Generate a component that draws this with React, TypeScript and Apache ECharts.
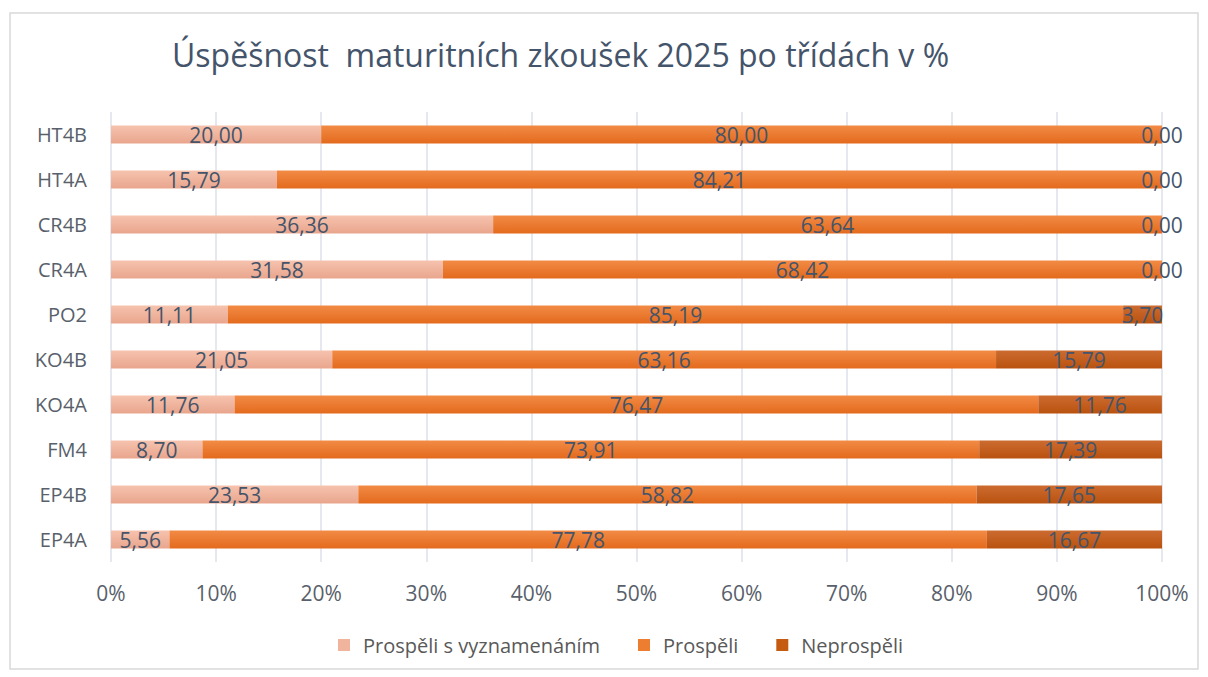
import React, { useEffect, useRef } from "react";
import * as echarts from "echarts";

const categories = ["EP4A", "EP4B", "FM4", "KO4A", "KO4B", "PO2", "CR4A", "CR4B", "HT4A", "HT4B"];
const vyznamenani = [5.56, 23.53, 8.7, 11.76, 21.05, 11.11, 31.58, 36.36, 15.79, 20.0];
const prospeli = [77.78, 58.82, 73.91, 76.47, 63.16, 85.19, 68.42, 63.64, 84.21, 80.0];
const neprospeli = [16.67, 17.65, 17.39, 11.76, 15.79, 3.7, 0, 0, 0, 0];
const seriesNames = ["Prospěli s vyznamenáním", "Prospěli", "Neprospěli"];
const xTicks = [0, 10, 20, 30, 40, 50, 60, 70, 80, 90, 100];

const FONT = "'Open Sans', 'Noto Sans', sans-serif";

function grad(top: string, bottom: string) {
  return new echarts.graphic.LinearGradient(0, 0, 0, 1, [
    { offset: 0, color: top },
    { offset: 1, color: bottom },
  ]);
}

export default function App() {
  const ref = useRef<HTMLDivElement>(null);
  useEffect(() => {
    if (!ref.current) return;
    const chart = echarts.init(ref.current, null, { renderer: "svg" });
    const label = {
      show: true,
      position: "inside",
      color: "#44546a",
      fontSize: 21,
      fontFamily: FONT,
      formatter: (p: any) => Number(p.value).toFixed(2).replace(".", ","),
    };
    const mk = (name: string, data: number[], top: string, bottom: string, legendColor: string) => ({
      name,
      type: "bar",
      stack: "total",
      data,
      barWidth: 18,
      label,
      itemStyle: { color: grad(top, bottom) },
      emphasis: { disabled: true },
      _legendColor: legendColor,
    });
    const series = [
      mk(seriesNames[0], vyznamenani, "#f6c3ae", "#e9a58d", "#f0b39c"),
      mk(seriesNames[1], prospeli, "#f28b45", "#e36a1d", "#ed7d31"),
      mk(seriesNames[2], neprospeli, "#cc6b30", "#b9520f", "#c55a11"),
    ];
    chart.setOption({
      animation: false,
      backgroundColor: "#ffffff",
      title: {
        text: "Úspěšnost  maturitních zkoušek 2025 po třídách v %",
        left: 167,
        top: 33,
        textStyle: { color: "#44546a", fontSize: 32, fontWeight: "normal", fontFamily: FONT },
      },
      legend: {
        bottom: 17,
        left: 333,
        itemWidth: 12,
        itemHeight: 12,
        itemGap: 38,
        icon: "rect",
        formatter: (n: string) => "{a|" + n + "}",
        textStyle: {
          color: "#595959",
          fontSize: 20,
          fontFamily: FONT,
          rich: { a: { color: "#595959", fontSize: 20, fontFamily: FONT, padding: [0, 0, 0, 8] } },
        },
        data: seriesNames.map((n, i) => ({ name: n, itemStyle: { color: (series[i] as any)._legendColor } })),
      },
      grid: { left: 111, right: 46, top: 112, bottom: 115, containLabel: false },
      xAxis: {
        type: "value",
        min: 0,
        max: 100,
        interval: 10,
        axisLine: { show: false },
        axisTick: { show: false },
        splitLine: { show: true, lineStyle: { color: "#dde2ea", width: 1.5 } },
        axisLabel: {
          color: "#595f6b",
          fontSize: 21,
          fontFamily: FONT,
          margin: 20,
          formatter: (v: number) => (xTicks.includes(v) ? v + "%" : ""),
        },
      },
      yAxis: {
        type: "category",
        data: categories,
        axisLine: { show: false },
        axisTick: { show: false },
        axisLabel: { color: "#595f6b", fontSize: 20, fontFamily: FONT, margin: 24 },
      },
      graphic: [
        {
          type: "rect",
          shape: { x: 10, y: 13, width: 1188, height: 656 },
          style: { fill: "none", stroke: "#d9d9d9", lineWidth: 1.5 },
          silent: true,
        },
      ],
      series: series.map(({ _legendColor, ...s }: any) => s),
    });
    return () => chart.dispose();
  }, []);
  return (
    <div
      ref={ref}
      style={{ position: "absolute", left: 0, top: 0, width: 1208, height: 677 }}
    />
  );
}
